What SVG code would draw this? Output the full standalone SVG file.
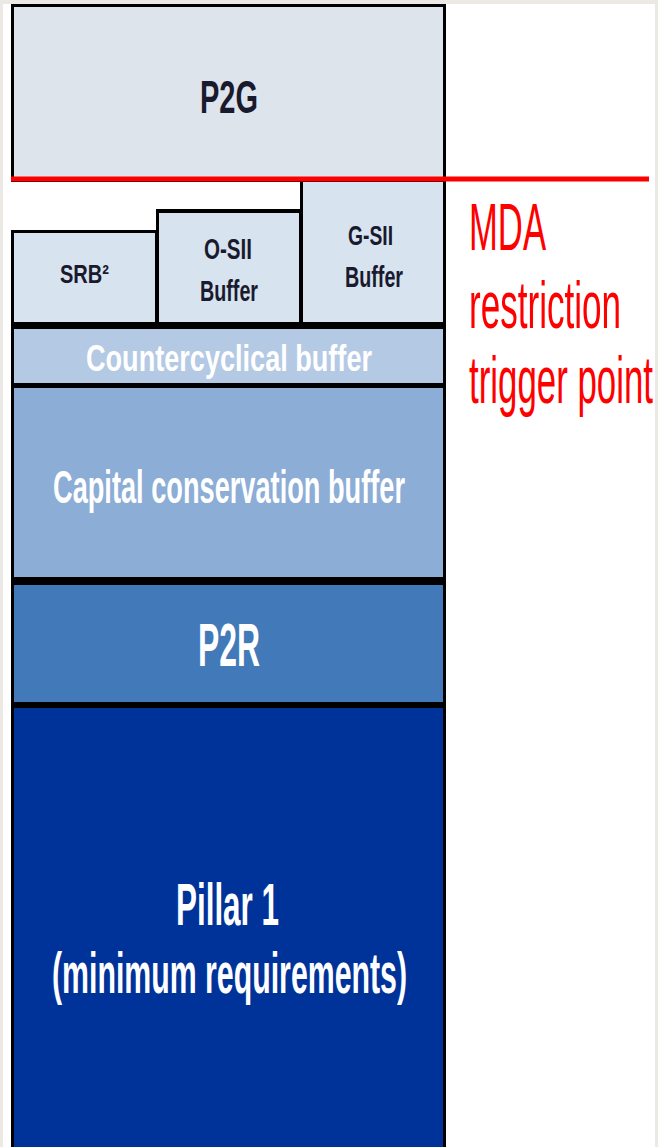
<svg xmlns="http://www.w3.org/2000/svg" width="658" height="1147" viewBox="0 0 658 1147">
  <style>
    .lbl { font-family: "Liberation Sans", Arial, sans-serif; font-weight: bold; }
    .dark { fill: #1a1a2e; }
    .light { fill: #ffffff; }
    .red { font-family: "Liberation Sans", Arial, sans-serif; fill: #ff0000; font-size: 66px; }
    .frame { fill: #000000; }
  </style>

  <!-- page background -->
  <rect x="0" y="0" width="658" height="1147" fill="#ece9e4"/>
  <rect x="3" y="4" width="652" height="1143" fill="#ffffff"/>

  <!-- black frames behind the blocks -->
  <g id="frames">
    <rect class="frame" x="11" y="4" width="435" height="178"/>
    <path class="frame" d="M11,230 H156 V209 H300 V180 H446 V1147 H11 Z"/>
  </g>

  <g id="p2g">
    <rect x="14" y="7" width="429" height="170" fill="#dde4ec"/>
    <text class="lbl dark" x="200" y="113" font-size="46" textLength="58" lengthAdjust="spacingAndGlyphs">P2G</text>
  </g>

  <g id="srb">
    <rect x="14" y="233" width="141" height="89" fill="#d8e3f0"/>
    <text class="lbl dark" x="60" y="283" font-size="25" textLength="49" lengthAdjust="spacingAndGlyphs">SRB²</text>
  </g>

  <g id="osii">
    <rect x="159" y="213" width="140" height="109" fill="#d8e3f0"/>
    <text class="lbl dark" x="204" y="259" font-size="29" textLength="48" lengthAdjust="spacingAndGlyphs">O-SII</text>
    <text class="lbl dark" x="200" y="301" font-size="29" textLength="58" lengthAdjust="spacingAndGlyphs">Buffer</text>
  </g>

  <g id="gsii">
    <rect x="303" y="182" width="140" height="140" fill="#d8e3f0"/>
    <text class="lbl dark" x="348" y="245" font-size="28" textLength="45" lengthAdjust="spacingAndGlyphs">G-SII</text>
    <text class="lbl dark" x="345" y="287" font-size="29" textLength="58" lengthAdjust="spacingAndGlyphs">Buffer</text>
  </g>

  <g id="countercyclical">
    <rect x="14" y="329" width="429" height="54" fill="#b4c9e4"/>
    <text class="lbl light" x="86" y="371" font-size="36" textLength="286" lengthAdjust="spacingAndGlyphs">Countercyclical buffer</text>
  </g>

  <g id="conservation">
    <rect x="14" y="388" width="429" height="189" fill="#8badd6"/>
    <text class="lbl light" x="53" y="503" font-size="46" textLength="352" lengthAdjust="spacingAndGlyphs">Capital conservation buffer</text>
  </g>

  <g id="p2r">
    <rect x="14" y="585" width="429" height="117" fill="#4279b8"/>
    <text class="lbl light" x="198" y="666" font-size="61" textLength="62" lengthAdjust="spacingAndGlyphs">P2R</text>
  </g>

  <g id="pillar1">
    <rect x="14" y="708" width="429" height="439" fill="#003399"/>
    <text class="lbl light" x="176" y="925" font-size="60" textLength="103" lengthAdjust="spacingAndGlyphs">Pillar 1</text>
    <text class="lbl light" x="52" y="993" font-size="58" textLength="355" lengthAdjust="spacingAndGlyphs">(minimum requirements)</text>
  </g>

  <!-- MDA trigger line and its label -->
  <g id="connectors">
    <rect x="11" y="176.5" width="638" height="5" fill="#ff0000"/>
  </g>

  <g id="mda-label">
    <text class="red" x="469" y="250" textLength="77" lengthAdjust="spacingAndGlyphs">MDA</text>
    <text class="red" x="469" y="328" textLength="152" lengthAdjust="spacingAndGlyphs">restriction</text>
    <text class="red" x="469" y="403" textLength="184" lengthAdjust="spacingAndGlyphs">trigger point</text>
  </g>
</svg>
